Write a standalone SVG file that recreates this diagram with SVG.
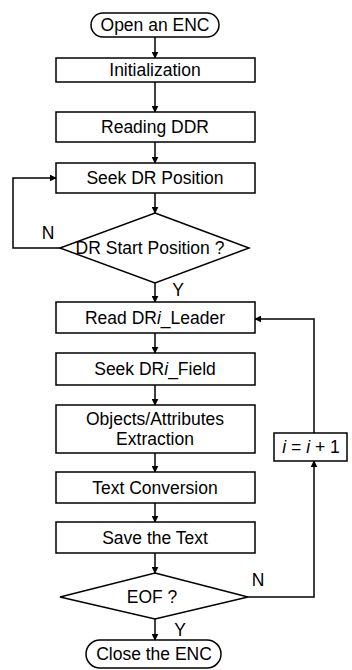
<svg xmlns="http://www.w3.org/2000/svg" width="352" height="670" viewBox="0 0 352 670">
<style>
.s{fill:#fff;stroke:#000;stroke-width:1.5}
.t{font-family:"Liberation Sans",Arial,sans-serif;font-size:17.5px;fill:#000;text-anchor:middle;dominant-baseline:central}
.l{fill:none;stroke:#000;stroke-width:1.5}
</style>
<defs>
<marker id="a" viewBox="0 0 10 10" refX="9" refY="5" markerWidth="7" markerHeight="7" orient="auto-start-reverse" markerUnits="userSpaceOnUse"><path d="M0,0L10,5L0,10z" fill="#000"/></marker>
</defs>
<rect width="352" height="670" fill="#fff"/>
<g id="connectors">
<line class="l" x1="155" y1="37" x2="155" y2="58" marker-end="url(#a)"/>
<line class="l" x1="155" y1="82" x2="155" y2="112" marker-end="url(#a)"/>
<line class="l" x1="155" y1="142" x2="155" y2="163" marker-end="url(#a)"/>
<line class="l" x1="155" y1="193" x2="155" y2="213" marker-end="url(#a)"/>
<polyline class="l" points="60,248 13,248 13,178 56,178" marker-end="url(#a)"/>
<line class="l" x1="155" y1="283" x2="155" y2="302" marker-end="url(#a)"/>
<line class="l" x1="155" y1="333" x2="155" y2="353" marker-end="url(#a)"/>
<line class="l" x1="155" y1="385" x2="155" y2="405" marker-end="url(#a)"/>
<line class="l" x1="155" y1="453" x2="155" y2="472" marker-end="url(#a)"/>
<line class="l" x1="155" y1="503" x2="155" y2="522" marker-end="url(#a)"/>
<line class="l" x1="155" y1="553" x2="155" y2="573" marker-end="url(#a)"/>
<line class="l" x1="155" y1="619" x2="155" y2="640" marker-end="url(#a)"/>
<polyline class="l" points="248,597 314,597 314,461" marker-end="url(#a)"/>
<polyline class="l" points="314,433 314,319 255,319" marker-end="url(#a)"/>
<text class="t" x="48" y="233">N</text>
<text class="t" x="178" y="290">Y</text>
<text class="t" x="258" y="580">N</text>
<text class="t" x="180" y="630">Y</text>
</g>
<g id="start"><rect class="s" x="91" y="13" width="128" height="24" rx="12"/><text class="t" x="155" y="25">Open an ENC</text></g>
<g id="init"><rect class="s" x="56" y="58" width="199" height="24"/><text class="t" x="155" y="70">Initialization</text></g>
<g id="readddr"><rect class="s" x="56" y="112" width="199" height="30"/><text class="t" x="155" y="127">Reading DDR</text></g>
<g id="seekdr"><rect class="s" x="56" y="163" width="199" height="30"/><text class="t" x="155" y="178">Seek DR Position</text></g>
<g id="drstart"><polygon class="s" points="155,213 249,248 155,283 60,248"/><text class="t" x="150" y="248">DR Start Position ?</text></g>
<g id="readleader"><rect class="s" x="56" y="302" width="199" height="31"/><text class="t" x="155" y="318">Read DR<tspan font-style="italic">i</tspan>_Leader</text></g>
<g id="seekfield"><rect class="s" x="56" y="353" width="199" height="32"/><text class="t" x="155" y="369">Seek DR<tspan font-style="italic">i</tspan>_Field</text></g>
<g id="objects"><rect class="s" x="56" y="405" width="199" height="48"/><text class="t" x="155" y="419">Objects/Attributes</text><text class="t" x="155" y="439">Extraction</text></g>
<g id="textconv"><rect class="s" x="56" y="472" width="199" height="31"/><text class="t" x="155" y="488">Text Conversion</text></g>
<g id="save"><rect class="s" x="56" y="522" width="199" height="31"/><text class="t" x="155" y="538">Save the Text</text></g>
<g id="eof"><polygon class="s" points="155,573 248,597 155,619 60,597"/><text class="t" x="152" y="597">EOF ?</text></g>
<g id="close"><rect class="s" x="86" y="640" width="135" height="28" rx="14"/><text class="t" x="154" y="654">Close the ENC</text></g>
<g id="incr"><rect class="s" x="274" y="433" width="73" height="28"/><text class="t" x="311" y="447"><tspan font-style="italic">i</tspan> = <tspan font-style="italic">i</tspan> + 1</text></g>
</svg>
